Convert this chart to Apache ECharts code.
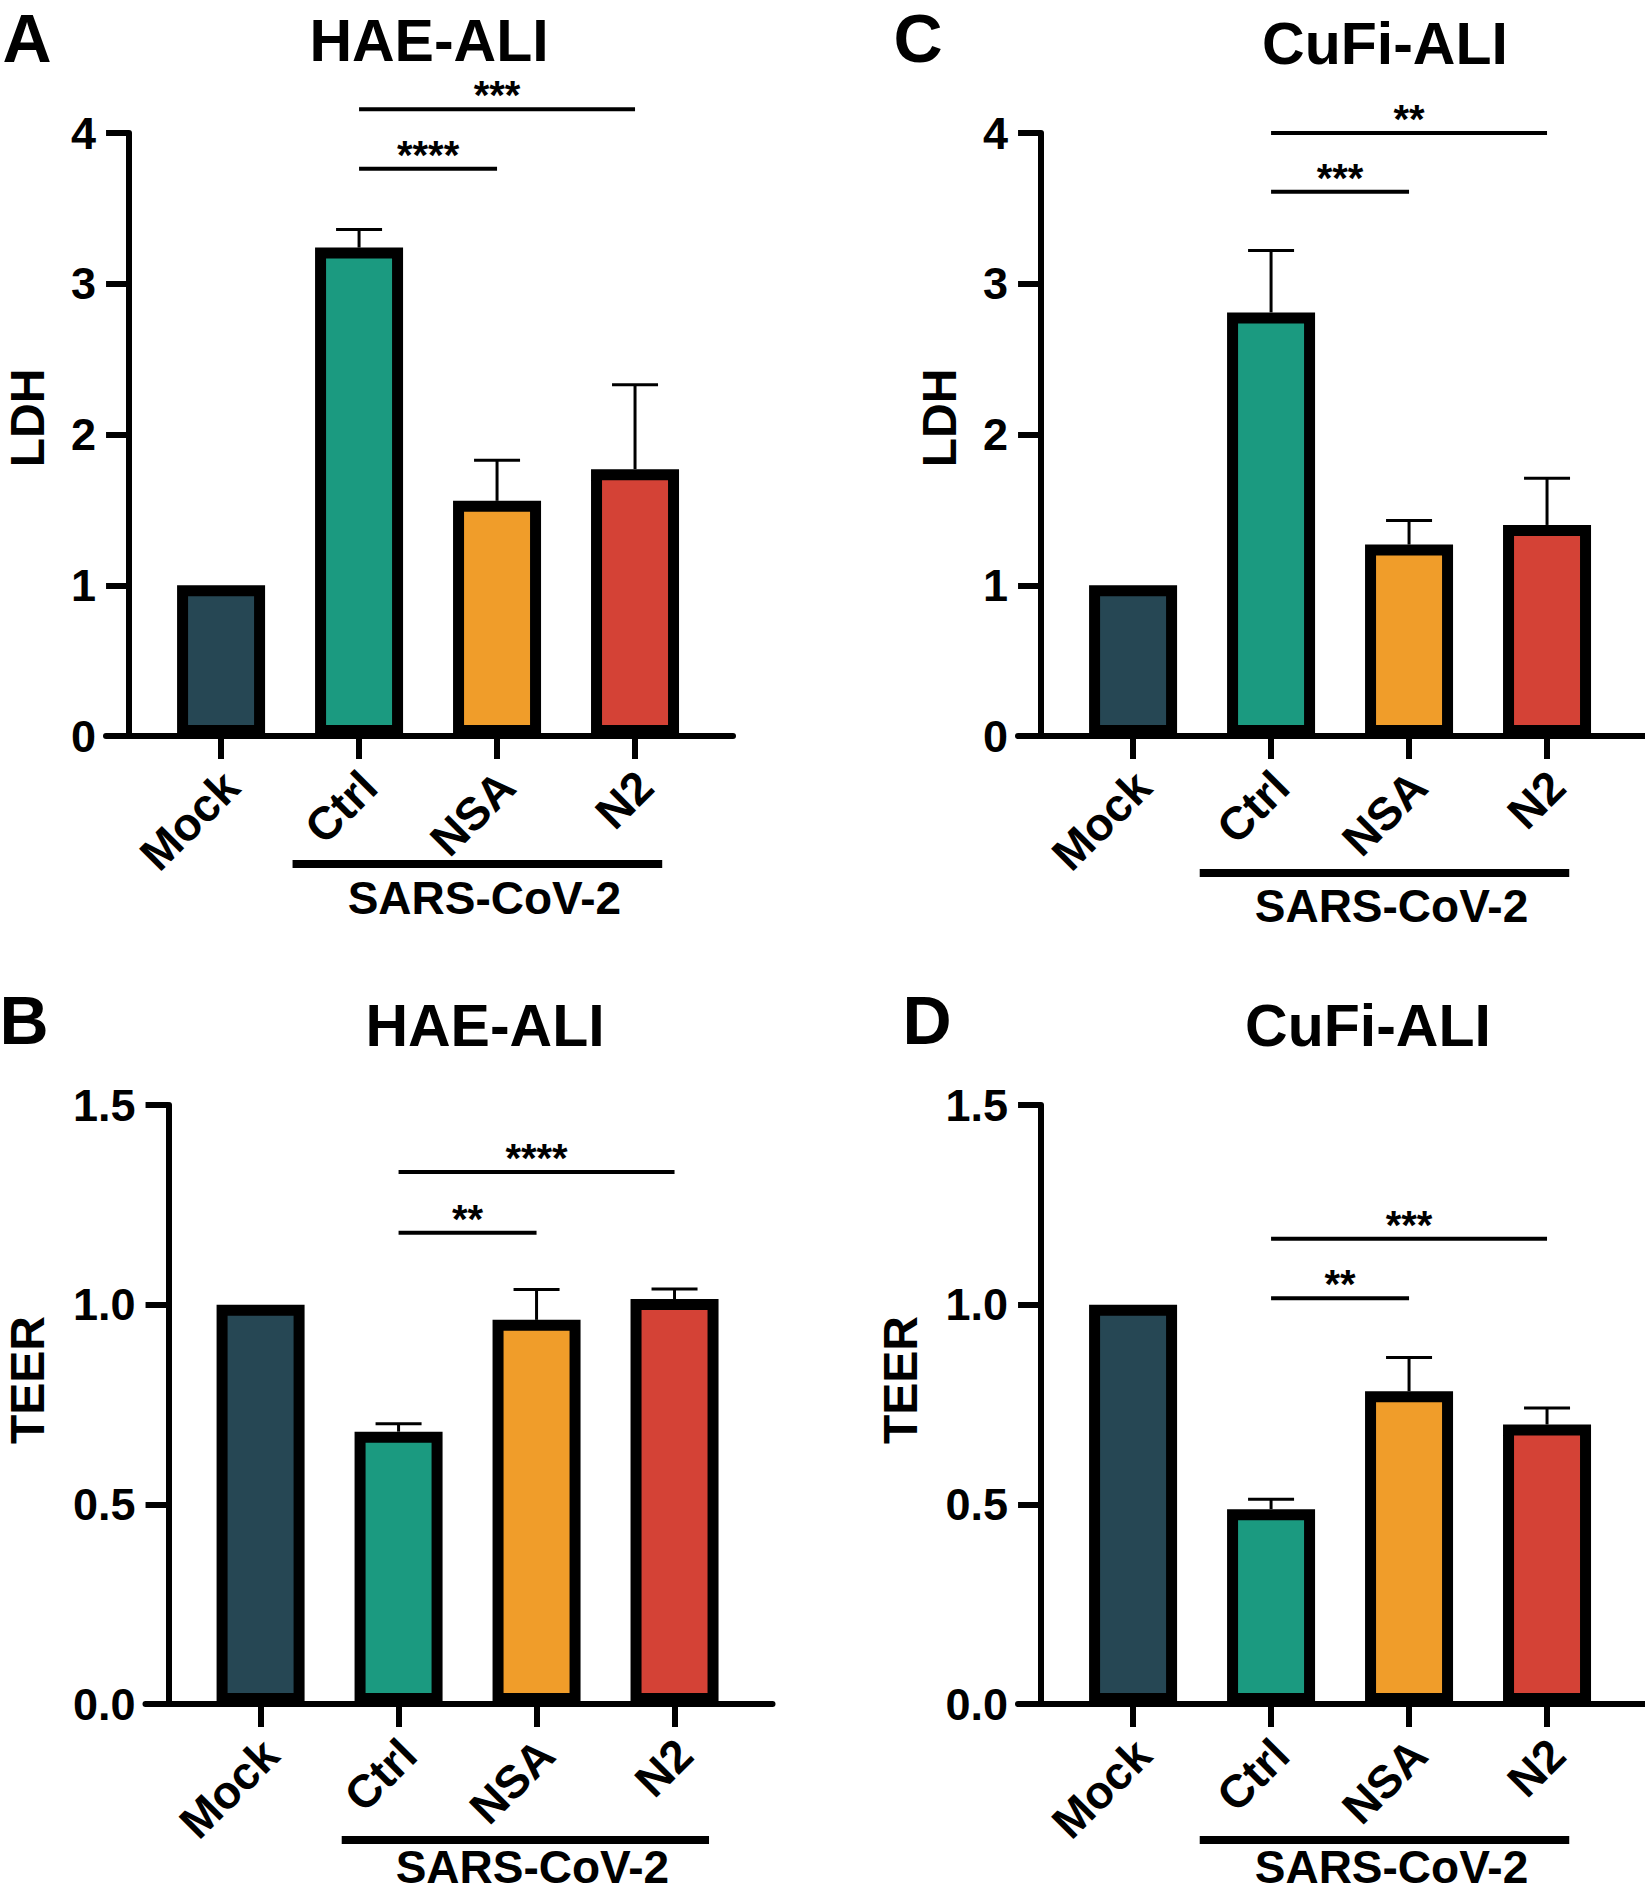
<!DOCTYPE html>
<html><head><meta charset="utf-8">
<script src="https://cdn.jsdelivr.net/npm/echarts@6/dist/echarts.min.js"></script>
<style>html,body{margin:0;padding:0;background:#fff}#c{width:1645px;height:1894px}</style>
</head><body><div id="c"></div>
<script>
// ---------------- DATA ----------------
const categories = ['Mock', 'Ctrl', 'NSA', 'N2'];
const barColors = ['#264754', '#1b9a80', '#f09d2a', '#d44236'];
const ldhTickLabels = ['0', '1', '2', '3', '4'];
const teerTickLabels = ['0.0', '0.5', '1.0', '1.5'];

const haeLdhMean  = [1.00, 3.24, 1.56, 1.77];
const haeLdhSem   = [0, 0.12, 0.27, 0.56];
const cufiLdhMean = [1.00, 2.81, 1.27, 1.40];
const cufiLdhSem  = [0, 0.41, 0.16, 0.31];
const haeTeerMean = [1.00, 0.682, 0.962, 1.014];
const haeTeerSem  = [0, 0.020, 0.076, 0.025];
const cufiTeerMean = [1.00, 0.488, 0.783, 0.700];
const cufiTeerSem  = [0, 0.025, 0.085, 0.041];

// significance brackets: [from category, to category, level, stars]
const haeLdhSig  = [['Ctrl', 'N2', 4.157, '***'], ['Ctrl', 'NSA', 3.763, '****']];
const cufiLdhSig = [['Ctrl', 'N2', 4.00, '**'], ['Ctrl', 'NSA', 3.61, '***']];
const haeTeerSig = [['Ctrl', 'N2', 1.332, '****'], ['Ctrl', 'NSA', 1.18, '**']];
const cufiTeerSig = [['Ctrl', 'N2', 1.165, '***'], ['Ctrl', 'NSA', 1.016, '**']];

const groupLabel = 'SARS-CoV-2';
const groupFrom = 'Ctrl', groupTo = 'N2';
const panelTitles = ['HAE-ALI', 'CuFi-ALI', 'HAE-ALI', 'CuFi-ALI'];
const panelLetters = ['A', 'C', 'B', 'D'];
const yNames = ['LDH', 'LDH', 'TEER', 'TEER'];

// ---------------- LAYOUT ----------------
const FONT = '"Liberation Sans", Arial, Helvetica, sans-serif';
const OFF = 0.667;           // first category distance from y axis (band units)
const XMIN = -0.167, XMAX = 4.377;
const catX = name => categories.indexOf(name) + OFF;

const panels = [
  { mean: haeLdhMean, sem: haeLdhSem, sig: haeLdhSig, yMax: 4, yInt: 1, ticks: ldhTickLabels,
    grid: { left: 106, top: 133, width: 627, height: 603 },
    br: { from: -0.482, to: 0.197, dy: 128, ty: 162 },
    title: [429, 41], letter: [27, 38], yName: [27, 418] },
  { mean: cufiLdhMean, sem: cufiLdhSem, sig: cufiLdhSig, yMax: 4, yInt: 1, ticks: ldhTickLabels,
    grid: { left: 1018, top: 133, width: 627, height: 603 },
    br: { from: -0.517, to: 0.161, dy: 137, ty: 170 },
    title: [1385, 44], letter: [918, 38], yName: [939, 418] },
  { mean: haeTeerMean, sem: haeTeerSem, sig: haeTeerSig, yMax: 1.5, yInt: 0.5, ticks: teerTickLabels,
    grid: { left: 145.5, top: 1105, width: 627, height: 599 },
    br: { from: -0.412, to: 0.25, dy: 136, ty: 163 },
    title: [485, 1026], letter: [24, 1020], yName: [27, 1380] },
  { mean: cufiTeerMean, sem: cufiTeerSem, sig: cufiTeerSig, yMax: 1.5, yInt: 0.5, ticks: teerTickLabels,
    grid: { left: 1018, top: 1105, width: 627, height: 599 },
    br: { from: -0.517, to: 0.161, dy: 136, ty: 163 },
    title: [1368, 1026], letter: [927, 1020], yName: [900, 1380] }
];

function txtStyle(text, size, weight, align, valign) {
  return { text: text, fontSize: size, fontWeight: weight, fontFamily: FONT, fill: '#000',
           align: align, verticalAlign: valign, textAlign: align, textVerticalAlign: valign };
}

const option = { animation: false, backgroundColor: '#ffffff',
  grid: [], xAxis: [], yAxis: [], series: [], graphic: [] };

panels.forEach((p, k) => {
  const catPos = categories.map((c, i) => i + OFF);
  option.grid.push(Object.assign({ containLabel: false, outerBoundsMode: 'none' }, p.grid));
  option.xAxis.push({
    type: 'value', gridIndex: k, min: XMIN, max: XMAX,
    axisLine: { show: true, onZero: true, lineStyle: { color: '#000', width: 6 } },
    axisTick: { show: true, customValues: catPos, length: 23, lineStyle: { color: '#000', width: 6 } },
    axisLabel: { show: true, customValues: catPos, rotate: 45, margin: 33, color: '#000',
      fontFamily: FONT, fontWeight: 'bold', fontSize: 46, align: 'right', verticalAlign: 'top', lineHeight: 28,
      formatter: v => categories[Math.round(v - OFF)] },
    splitLine: { show: false }
  });
  option.yAxis.push({
    type: 'value', gridIndex: k, min: 0, max: p.yMax, interval: p.yInt,
    axisLine: { show: true, onZero: true, lineStyle: { color: '#000', width: 6 } },
    axisTick: { show: true, length: 23, lineStyle: { color: '#000', width: 6 } },
    axisLabel: { margin: 10, color: '#000', fontFamily: FONT, fontWeight: 'bold', fontSize: 45,
      formatter: v => p.ticks[Math.round(v / p.yInt)] },
    splitLine: { show: false }
  });

  // error bars (drawn under bars so the stem starts at the bar top)
  option.series.push({
    type: 'custom', xAxisIndex: k, yAxisIndex: k, z: 1, clip: false, silent: true,
    data: p.mean.map((m, i) => [i + OFF, m, m + p.sem[i]]),
    renderItem: (params, api) => {
      const x = api.value(0), lo = api.value(1), hi = api.value(2);
      if (!(hi > lo)) return { type: 'group', children: [] };
      const a = api.coord([x, lo]), b = api.coord([x, hi]);
      return { type: 'group', children: [
        { type: 'line', shape: { x1: a[0], y1: a[1], x2: b[0], y2: b[1] }, style: { stroke: '#000', lineWidth: 3 } },
        { type: 'line', shape: { x1: b[0] - 23, y1: b[1], x2: b[0] + 23, y2: b[1] }, style: { stroke: '#000', lineWidth: 3 } }
      ] };
    }
  });

  // bars
  option.series.push({
    type: 'bar', xAxisIndex: k, yAxisIndex: k, z: 2, barWidth: 88, silent: true,
    data: p.mean.map((m, i) => ({ value: [i + OFF, m], itemStyle: { color: barColors[i] } })),
    itemStyle: { borderColor: '#000', borderWidth: 11 }
  });

  // significance lines
  option.series.push({
    type: 'custom', xAxisIndex: k, yAxisIndex: k, z: 3, clip: false, silent: true,
    data: p.sig.map(s => [catX(s[0]), catX(s[1]), s[2]]),
    renderItem: (params, api) => {
      const a = api.coord([api.value(0), api.value(2)]);
      const b = api.coord([api.value(1), api.value(2)]);
      const stars = p.sig[params.dataIndex][3];
      return { type: 'group', children: [
        { type: 'line', shape: { x1: a[0], y1: a[1], x2: b[0], y2: b[1] }, style: { stroke: '#000', lineWidth: 4 } },
        { type: 'text', x: (a[0] + b[0]) / 2, y: a[1] - 14, style: txtStyle(stars, 40, 'bold', 'center', 'middle') }
      ] };
    }
  });

  // SARS-CoV-2 group bracket under the axis
  option.series.push({
    type: 'custom', xAxisIndex: k, yAxisIndex: k, z: 3, clip: false, silent: true,
    data: [[catX(groupFrom) + p.br.from, catX(groupTo) + p.br.to]],
    renderItem: (params, api) => {
      const a = api.coord([api.value(0), 0]);
      const b = api.coord([api.value(1), 0]);
      return { type: 'group', children: [
        { type: 'line', shape: { x1: a[0], y1: a[1] + p.br.dy, x2: b[0], y2: b[1] + p.br.dy }, style: { stroke: '#000', lineWidth: 8 } },
        { type: 'text', x: (a[0] + b[0]) / 2 + 7, y: a[1] + p.br.ty, style: txtStyle(groupLabel, 46, 'bold', 'center', 'middle') }
      ] };
    }
  });

  option.graphic.push(
    { type: 'text', x: p.title[0], y: p.title[1], style: txtStyle(panelTitles[k], 59, 'bold', 'center', 'middle') },
    { type: 'text', x: p.letter[0], y: p.letter[1], style: txtStyle(panelLetters[k], 68, 'bold', 'center', 'middle') },
    { type: 'text', x: p.yName[0], y: p.yName[1], rotation: Math.PI / 2, style: txtStyle(yNames[k], 48, 'bold', 'center', 'middle') }
  );
});

const chart = echarts.init(document.getElementById('c'), null, { renderer: 'svg', width: 1645, height: 1894 });
chart.setOption(option);
</script>
</body></html>
